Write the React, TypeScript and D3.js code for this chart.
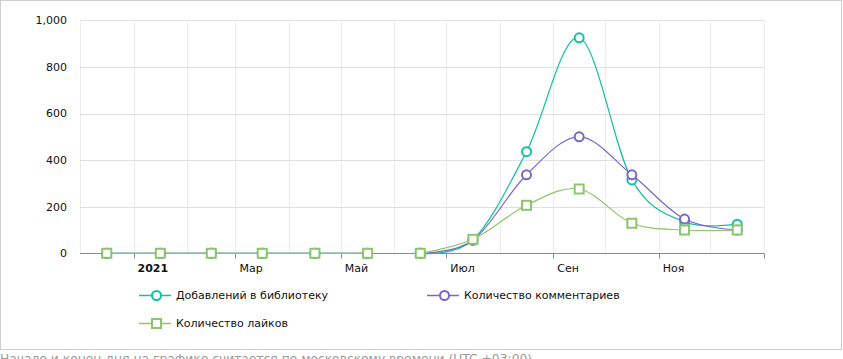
import React, { useEffect, useRef } from "react";
import * as d3 from "d3";

const months = [
  "2020-12", "2021-01", "2021-02", "2021-03", "2021-04", "2021-05", "2021-06",
  "2021-07", "2021-08", "2021-09", "2021-10", "2021-11", "2021-12",
];
const libraryAdds = [0, 0, 0, 0, 0, 0, 0, 58, 436, 925, 315, 135, 125];
const comments = [0, 0, 0, 0, 0, 0, 0, 56, 337, 500, 337, 147, 100];
const likes = [0, 0, 0, 0, 0, 0, 0, 60, 206, 276, 129, 100, 100];
// the lines break between these two months in the original
const gapAfter = "2021-05";

const xTickLabels = ["2021", "Мар", "Май", "Июл", "Сен", "Ноя"];
const yTicks = [0, 200, 400, 600, 800, 1000];
const footnote = "Начало и конец дня на графике считается по московскому времени (UTC +03:00)";

const series = [
  { name: "Добавлений в библиотеку", values: libraryAdds, color: "#14c19f", marker: "circle" },
  { name: "Количество комментариев", values: comments, color: "#7a66c6", marker: "circle" },
  { name: "Количество лайков", values: likes, color: "#8cc66c", marker: "square" },
];

const W = 843;
const H = 359;

const App: React.FC = () => {
  const ref = useRef<SVGSVGElement | null>(null);

  useEffect(() => {
    const svg = d3.select(ref.current);
    svg.selectAll("*").remove();
    svg.attr("width", W).attr("height", H).style("font-family", "'DejaVu Sans', Tahoma, sans-serif");

    const parse = d3.timeParse("%Y-%m");
    const x = d3.scaleTime().domain([new Date(2020, 11, 1), new Date(2022, 0, 1)]).range([80, 764]);
    const y = d3.scaleLinear().domain([0, 1000]).range([253.3, 20.3]);
    // points sit in the middle of their month
    const mid = (m: string) => {
      const d = parse(m) as Date;
      return (x(d) + x(d3.timeMonth.offset(d, 1))) / 2;
    };

    // frame
    svg.append("rect").attr("x", 0.5).attr("y", 0.5).attr("width", 841).attr("height", 349)
      .attr("fill", "#fff").attr("stroke", "#cfcfcf");

    // vertical grid every month
    const monthTicks = d3.timeMonth.range(new Date(2020, 11, 1), new Date(2022, 0, 2));
    svg.append("g").selectAll("line").data(monthTicks).enter().append("line")
      .attr("x1", d => Math.round(x(d)) + 0.5).attr("x2", d => Math.round(x(d)) + 0.5)
      .attr("y1", y(1000)).attr("y2", y(0))
      .attr("stroke", "#ececec");

    // horizontal grid
    svg.append("g").selectAll("line").data(yTicks.slice(1)).enter().append("line")
      .attr("x1", 80).attr("x2", 764)
      .attr("y1", d => Math.round(y(d)) + 0.5).attr("y2", d => Math.round(y(d)) + 0.5)
      .attr("stroke", "#e0e0e0");

    svg.append("g").selectAll("text").data(yTicks).enter().append("text")
      .attr("x", 67).attr("y", d => y(d)).attr("dy", "0.35em")
      .attr("text-anchor", "end").attr("font-size", 11).attr("fill", "#111")
      .text(d => d3.format(",")(d));

    // x axis
    const y0 = Math.round(y(0)) + 0.5;
    svg.append("line").attr("x1", 80).attr("x2", 764).attr("y1", y0).attr("y2", y0)
      .attr("stroke", "#8a8a8a");
    const labelTicks = d3.timeMonth.every(2)!.range(new Date(2021, 0, 1), new Date(2022, 0, 2));
    svg.append("g").selectAll("line").data(labelTicks).enter().append("line")
      .attr("x1", d => Math.round(x(d)) + 0.5).attr("x2", d => Math.round(x(d)) + 0.5)
      .attr("y1", y0).attr("y2", y0 + 5).attr("stroke", "#8a8a8a");
    svg.append("g").selectAll("text").data(xTickLabels).enter().append("text")
      .attr("x", (d, i) => x(labelTicks[i]) + 4).attr("y", 268).attr("dy", "0.35em")
      .attr("font-size", 11).attr("fill", "#111")
      .attr("font-weight", (d, i) => (i === 0 ? "bold" : "normal"))
      .text(d => d);

    const gapIdx = months.indexOf(gapAfter);
    const line = d3.line<{ v: number; i: number }>()
      .x(d => mid(months[d.i])).y(d => y(d.v))
      .curve(d3.curveCatmullRom.alpha(0));

    series.forEach(s => {
      const g = svg.append("g");
      const pts = s.values.map((v, i) => ({ v, i }));
      [pts.slice(0, gapIdx + 1), pts.slice(gapIdx + 1)].forEach(p => {
        g.append("path").attr("d", line(p)).attr("fill", "none")
          .attr("stroke", s.color).attr("stroke-width", 1.2);
      });
      if (s.marker === "circle") {
        g.selectAll("circle").data(pts).enter().append("circle")
          .attr("cx", d => mid(months[d.i])).attr("cy", d => y(d.v)).attr("r", 4.5)
          .attr("fill", "#fff").attr("stroke", s.color).attr("stroke-width", 2);
      } else {
        g.selectAll("rect").data(pts).enter().append("rect")
          .attr("x", d => mid(months[d.i]) - 4.5).attr("y", d => y(d.v) - 4.5)
          .attr("width", 9).attr("height", 9)
          .attr("fill", "#fff").attr("stroke", s.color).attr("stroke-width", 2);
      }
    });

    // legend
    const legendPos = [[139, 295], [427, 295], [139, 323]];
    series.forEach((s, i) => {
      const [lx, ly] = legendPos[i];
      const g = svg.append("g").attr("transform", `translate(${lx},${ly})`);
      g.append("line").attr("x1", 0).attr("x2", 32).attr("y1", 0.5).attr("y2", 0.5)
        .attr("stroke", s.color).attr("stroke-width", 1.5);
      if (s.marker === "circle") {
        g.append("circle").attr("cx", 17.5).attr("cy", 0.5).attr("r", 4.5)
          .attr("fill", "#fff").attr("stroke", s.color).attr("stroke-width", 2);
      } else {
        g.append("rect").attr("x", 13).attr("y", -4).attr("width", 9).attr("height", 9)
          .attr("fill", "#fff").attr("stroke", s.color).attr("stroke-width", 2);
      }
      g.append("text").attr("x", 37).attr("y", 0).attr("dy", "0.35em")
        .attr("font-size", 11).attr("fill", "#111").text(s.name);
    });

    // footnote below the frame, cut by the page edge as in the original
    svg.append("text").attr("x", 0).attr("y", 363).attr("font-size", 12.3)
      .attr("fill", "#9a9a9a").text(footnote);
  }, []);

  return (
    <div style={{ position: "absolute", left: 0, top: 0 }}>
      <svg ref={ref}></svg>
    </div>
  );
};

export default App;
